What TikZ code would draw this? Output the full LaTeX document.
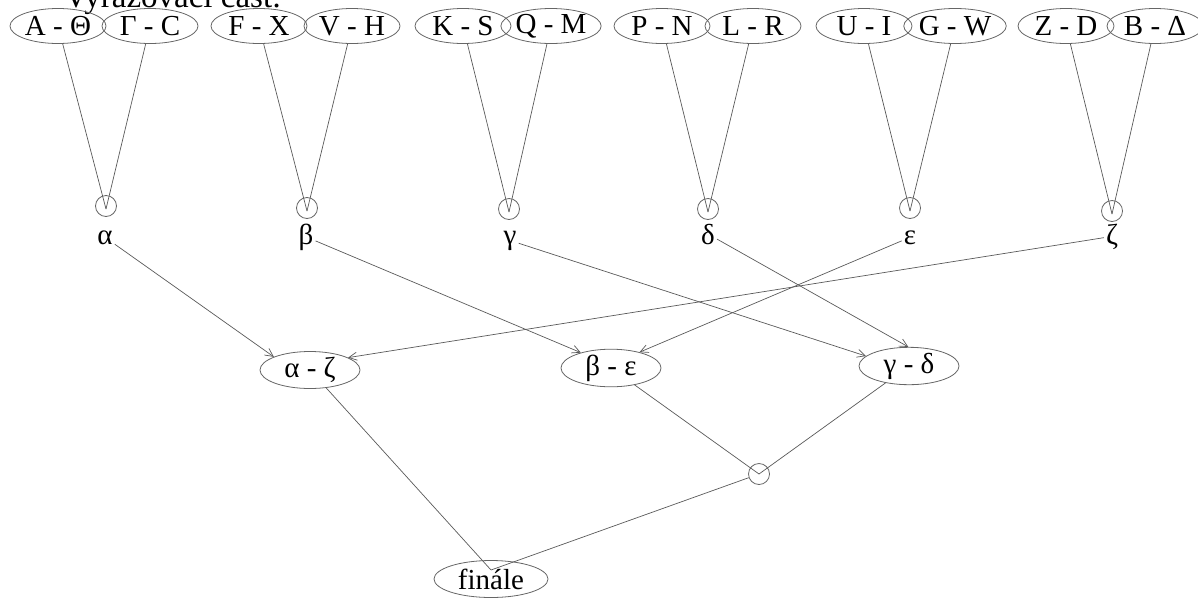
\documentclass[tikz,border=0pt]{standalone}
\usepackage{fontspec}
\setmainfont{Liberation Serif}
\usetikzlibrary{arrows.meta,shapes.geometric}
\begin{document}
\begin{tikzpicture}[x=1pt,y=-1pt,
  txt/.style={font=\fontsize{29}{33}\selectfont, text=black},
  pairnode/.style={ellipse, draw=black!60, line width=0.8pt, minimum width=96pt, minimum height=35pt, inner sep=0pt, txt},
  matchnode/.style={ellipse, draw=black!60, line width=0.8pt, minimum width=100pt, minimum height=37pt, inner sep=0pt, txt},
  junc/.style={circle, draw=black!60, line width=0.8pt, minimum size=21pt, inner sep=0pt},
  greek/.style={txt, inner sep=2pt},
  conn/.style={draw=black!65, line width=0.7pt},
  arr/.style={conn, -{Straight Barb[length=8pt,width=8pt]}}
]
\useasboundingbox (0,0) rectangle (1198,600);
\node[font=\fontsize{33}{38}\selectfont, anchor=base west, inner sep=0pt] (title) at (64,7) {Vyřazovací část:};

% top pairs
\node[pairnode] (p1a) at (58,26) {A - Θ};
\node[pairnode] (p1b) at (150,26) {Γ - C};
\node[pairnode] (p2a) at (259,26) {F - X};
\node[pairnode] (p2b) at (352,26) {V - H};
\node[pairnode] (p3a) at (463,26) {K - S};
\node[pairnode] (p3b) at (551,26) {Q - M};
\node[pairnode] (p4a) at (662,26) {P - N};
\node[pairnode] (p4b) at (753,26) {L - R};
\node[pairnode] (p5a) at (864,26) {U - I};
\node[pairnode] (p5b) at (955,26) {G - W};
\node[pairnode] (p6a) at (1066,26) {Z - D};
\node[pairnode] (p6b) at (1155,26) {B - Δ};

% junction circles
\node[junc] (c1) at (106,206) {};
\node[junc] (c2) at (307,208) {};
\node[junc] (c3) at (509,209) {};
\node[junc] (c4) at (708,209) {};
\node[junc] (c5) at (910,208) {};
\node[junc] (c6) at (1112,211) {};

% greek labels
\node[greek, anchor=base] (ga) at (105,244) {α};
\node[greek, anchor=base] (gb) at (306,244) {β};
\node[greek, anchor=base] (gc) at (510,244) {γ};
\node[greek, anchor=base] (gd) at (708,244) {δ};
\node[greek, anchor=base] (ge) at (910,244) {ε};
\node[greek, anchor=base] (gz) at (1112,244) {ζ};

% top lines
\foreach \i in {1,...,6}{
  \draw[conn] (p\i a) -- ([yshift=-3pt]c\i.center);
  \draw[conn] (p\i b) -- ([yshift=-3pt]c\i.center);
}

% second level
\node[matchnode] (az) at (310,370) {α - ζ};
\node[matchnode] (be) at (611,368) {β - ε};
\node[matchnode] (gd2) at (909,366) {γ - δ};

\draw[arr] (ga) -- (az.160);
\draw[arr] (gz) -- (az.18);
\draw[arr] (gb) -- (be.153);
\draw[arr] (ge) -- (be.29);
\draw[arr] (gc) -- (gd2.167);
\draw[arr] (gd) -- (gd2.92);

% final level
\node[junc] (c7) at (759,474) {};
\node[ellipse, draw=black!60, line width=0.8pt, minimum width=114pt, minimum height=37pt, inner sep=0pt, txt] (fin) at (491,579) {finále};

\draw[conn] (be) -- (c7.center);
\draw[conn] (gd2) -- (c7.center);
\draw[conn] (az) -- ([yshift=9pt]fin.center);
\draw[conn] (c7) -- ([yshift=9pt]fin.center);
\end{tikzpicture}
\end{document}
